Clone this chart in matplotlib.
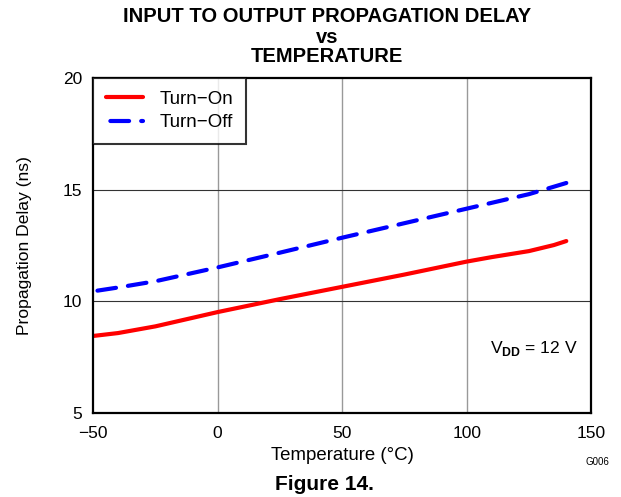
import numpy as np
import matplotlib.pyplot as plt

# values
temp_on = [-50, -40, -25, 0, 25, 50, 75, 100, 110, 125, 135, 140]
delay_on = [8.45, 8.58, 8.88, 9.52, 10.1, 10.65, 11.2, 11.78, 11.98, 12.25, 12.52, 12.7]

temp_off = [-50, -40, -25, 0, 25, 50, 75, 100, 125, 140]
delay_off = [10.45, 10.62, 10.9, 11.52, 12.18, 12.85, 13.5, 14.15, 14.8, 15.3]

x_ticks = [-50, 0, 50, 100, 150]
y_ticks = [5, 10, 15, 20]

plt.rcParams['font.family'] = ['Liberation Sans', 'DejaVu Sans']
plt.rcParams['mathtext.fontset'] = 'custom'
plt.rcParams['mathtext.rm'] = 'Liberation Sans'
plt.rcParams['mathtext.bf'] = 'Liberation Sans:bold'
plt.rcParams['font.size'] = 12

DPI = 100
fig = plt.figure(figsize=(6.21, 4.97), dpi=DPI)
ax = fig.add_axes([0.150, 0.169, 0.802, 0.674])
ax.set_xlim(-50, 150)
ax.set_ylim(5, 20)

lw = 3
ax.plot(temp_on, delay_on, color='#ff0000', lw=lw, solid_capstyle='round', label='Turn\u2212On')

# dash pattern (in linewidth units), shifted so the line ends on a full dash
on, off = 4.5, 2.9
pts = ax.transData.transform(np.column_stack([temp_off, delay_off]))
length_px = np.sum(np.hypot(*np.diff(pts, axis=0).T))
lw_px = lw * DPI / 72
offset = (on - length_px / lw_px) % (on + off)
ax.plot(temp_off, delay_off, color='#0000ff', lw=lw, linestyle=(offset, (on, off)),
        dash_capstyle='round', label='Turn\u2212Off')

ax.set_xticks(x_ticks)
ax.set_yticks(y_ticks)
ax.set_xticklabels([str(t).replace('-', '\u2212') for t in x_ticks])
ax.tick_params(length=0, labelsize=12.5)
ax.tick_params(axis='x', pad=9)
ax.tick_params(axis='y', pad=8)

# grid: vertical lines lighter than horizontal
for xv in x_ticks[1:-1]:
    ax.axvline(xv, color='0.6', lw=1, zorder=0)
for yv in y_ticks[1:-1]:
    ax.axhline(yv, color='0.2', lw=0.8, zorder=0)

for s in ax.spines.values():
    s.set_linewidth(1.6)

ax.set_xlabel('Temperature (\u00b0C)', fontsize=13.4, labelpad=5)
ax.set_ylabel('Propagation Delay (ns)', fontsize=12.6, labelpad=22)

leg = ax.legend(loc='upper left', bbox_to_anchor=(0, 1), borderaxespad=0,
                frameon=True, fancybox=False, edgecolor='black', fontsize=13.5,
                handlelength=2.0, borderpad=0.68, labelspacing=0.33, handletextpad=0.85)
leg.get_frame().set_linewidth(1.5)

ax.text(144.5, 7.87, r'V$_{\mathbf{DD}}$ = 12 V', ha='right', va='center', fontsize=12.6)

# three-line title, placed by baseline
fig.text(0.527, 0.956, 'INPUT TO OUTPUT PROPAGATION DELAY', ha='center', va='baseline',
         fontsize=14.5, fontweight='bold')
fig.text(0.527, 0.913, 'vs', ha='center', va='baseline', fontsize=14.5, fontweight='bold')
fig.text(0.527, 0.875, 'TEMPERATURE', ha='center', va='baseline', fontsize=14.5, fontweight='bold')
fig.text(0.523, 0.014, 'Figure 14.', ha='center', va='baseline', fontsize=15, fontweight='bold')
fig.text(0.962, 0.070, 'G006', ha='center', va='center', fontsize=7)

fig.savefig('out.png', dpi=DPI)
